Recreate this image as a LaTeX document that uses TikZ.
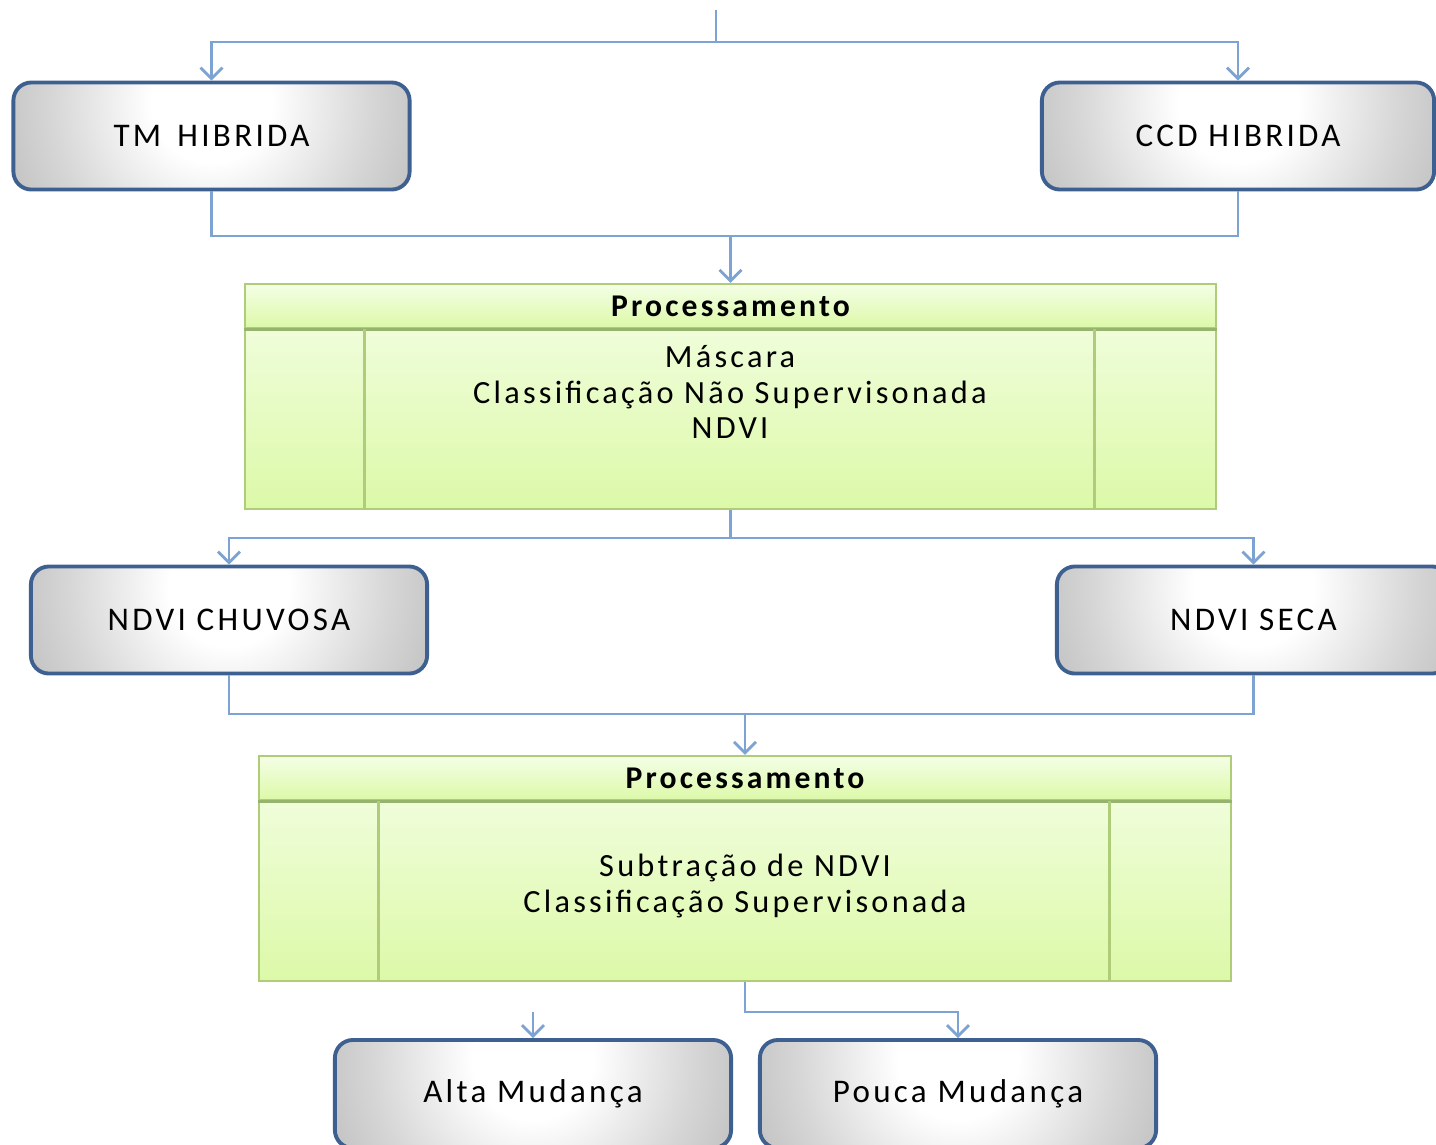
\documentclass[tikz,border=0pt]{standalone}
\usepackage{fontspec}
\setmainfont{Carlito}[LetterSpace=10]
\usetikzlibrary{positioning, arrows.meta}

\definecolor{boxblue}{RGB}{62,96,145}
\definecolor{linkblue}{RGB}{125,163,211}
\definecolor{greenline}{RGB}{175,205,120}
\definecolor{greendark}{RGB}{150,180,110}
\definecolor{greentop}{RGB}{244,254,230}
\definecolor{greenbot}{RGB}{220,249,168}

\pgfdeclareradialshading{boxshade}{\pgfpointorigin}{%
  color(0bp)=(white); color(6bp)=(white); color(16bp)=(black!16); color(28bp)=(black!32); color(38bp)=(black!46); color(50bp)=(black!58)}

\tikzset{
  graybox/.style={rectangle, rounded corners=0.18cm, draw=boxblue, line width=1.1pt,
    minimum width=3.96cm, minimum height=1.07cm, font=\fontsize{9.4}{10}\selectfont,
    path picture={\shade[shading=boxshade] ([yshift=-0.2cm]path picture bounding box.north) circle [radius=2.5cm];}},
  greenbox/.style={rectangle, draw=greenline, line width=0.6pt, top color=greentop,
    bottom color=greenbot, minimum width=9.71cm, minimum height=2.25cm},
  greenhead/.style={rectangle, draw=greenline, line width=0.6pt, top color=greentop,
    bottom color=greenbot, minimum width=9.71cm, minimum height=0.42cm,
    font=\bfseries\fontsize{9}{10}\selectfont},
  greentext/.style={align=center, font=\fontsize{9.2}{10.1}\selectfont},
  colline/.style={draw=greenline, line width=0.8pt},
  headline/.style={draw=greendark, line width=0.9pt},
  link/.style={draw=linkblue, line width=0.8pt},
  arrowlink/.style={link, -{Straight Barb[length=1.1mm, width=2.2mm]}}
}

\begin{document}
\begin{tikzpicture}[x=0.01cm, y=-0.01cm]
	\useasboundingbox (0,0) rectangle (1436,1144);

	% First level
	\node[graybox] (tm) at (211.5,136) {TM\, HIBRIDA};
	\node[graybox, minimum width=3.92cm] (ccd) at (1238,136) {CCD HIBRIDA};

	% First processing block
	\node[greenbox] (proc1) at (730.5,396.5) {};
	\node[greenhead, anchor=north] (proc1h) at (proc1.north) {Processamento};
	\draw[headline] (proc1h.south west) -- (proc1h.south east);
	\draw[colline] ([xshift=1.21cm]proc1h.south west) -- ([xshift=1.21cm]proc1.south west);
	\draw[colline] ([xshift=-1.23cm]proc1h.south east) -- ([xshift=-1.23cm]proc1.south east);
	\node[greentext] (proc1txt) at (730,392) {Máscara\\Classificação Não Supervisonada\\NDVI};

	% Second level
	\node[graybox] (chuv) at (229,620) {NDVI CHUVOSA};
	\node[graybox, minimum width=3.93cm] (seca) at (1253.5,620) {NDVI SECA};

	% Second processing block
	\node[greenbox] (proc2) at (745,868.5) {};
	\node[greenhead, anchor=north] (proc2h) at (proc2.north) {Processamento};
	\draw[headline] (proc2h.south west) -- (proc2h.south east);
	\draw[colline] ([xshift=1.2cm]proc2h.south west) -- ([xshift=1.2cm]proc2.south west);
	\draw[colline] ([xshift=-1.22cm]proc2h.south east) -- ([xshift=-1.22cm]proc2.south east);
	\node[greentext] (proc2txt) at (745,886) {Subtração de NDVI\\Classificação Supervisonada};

	% Results
	\node[graybox, minimum height=1.08cm] (alta) at (533,1094) {Alta Mudança};
	\node[graybox, minimum height=1.08cm] (pouca) at (958,1094) {Pouca Mudança};

	% Connectors
	\coordinate (start) at (716,10);
	\coordinate (split1) at (716,42);
	\draw[link] (start) -- (split1);
	\draw[arrowlink] (split1) -| (tm.north);
	\draw[arrowlink] (split1) -| (ccd.north);

	\coordinate (join1) at (730.5,236);
	\draw[link] (tm.south) |- (join1) -| (ccd.south);
	\draw[arrowlink] (join1) -- (proc1h.north);

	\coordinate (split2) at (730.5,538);
	\draw[link] (proc1.south) -- (split2);
	\draw[arrowlink] (split2) -| (chuv.north);
	\draw[arrowlink] (split2) -| (seca.north);

	\coordinate (join2) at (745,714);
	\draw[link] (chuv.south) |- (join2) -| (seca.south);
	\draw[arrowlink] (join2) -- (proc2h.north);

	\draw[arrowlink] (proc2.south) |- (850,1012) -| (pouca.north);
	\coordinate (altatop) at (533,1012);
	\draw[arrowlink] (altatop) -- (alta.north);
\end{tikzpicture}
\end{document}
